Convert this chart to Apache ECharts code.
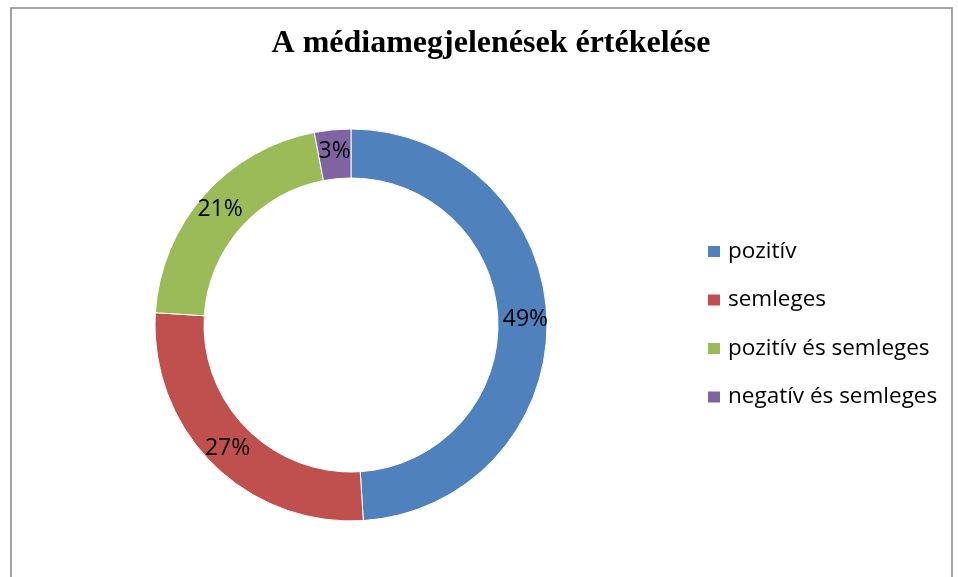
<!DOCTYPE html>
<html>
<head>
<meta charset="utf-8">
<script src="https://cdn.jsdelivr.net/npm/echarts@6/dist/echarts.min.js"></script>
<style>
  html, body { margin: 0; padding: 0; background: #fff; }
  #chart { width: 958px; height: 577px; }
</style>
</head>
<body>
<div id="chart"></div>
<script>
// Categories and shares (%) of the media appearances
const categories = ['pozitív', 'semleges', 'pozitív és semleges', 'negatív és semleges'];
const shares = [49, 27, 21, 3];
const colors = ['#4F81BD', '#C0504D', '#9BBB59', '#8064A2'];
const titleText = 'A médiamegjelenések értékelése';

const sansFont = '"Open Sans", Lato, sans-serif';

const chart = echarts.init(document.getElementById('chart'));
chart.setOption({
  animation: false,
  color: colors,
  title: {
    text: titleText,
    left: 491,
    textAlign: 'center',
    top: 28,
    padding: 0,
    textStyle: {
      fontFamily: '"Liberation Serif", "Times New Roman", serif',
      fontWeight: 'bold',
      fontSize: 32,
      color: '#000'
    }
  },
  graphic: [{
    type: 'rect',
    shape: { x: 11, y: 8, width: 941, height: 620 },
    style: { fill: 'none', stroke: '#878787', lineWidth: 1.5 },
    silent: true
  }],
  legend: {
    orient: 'vertical',
    left: 706,
    top: 240,
    padding: 0,
    itemWidth: 14,
    itemHeight: 13,
    itemGap: 25.5,
    icon: 'rect',
    data: categories,
    textStyle: {
      fontFamily: sansFont,
      fontSize: 22.5,
      lineHeight: 20,
      color: '#000',
      padding: [0, 0, 0, 2]
    }
  },
  series: [{
    type: 'pie',
    center: [351, 325],
    radius: [147, 196],
    startAngle: 90,
    clockwise: true,
    label: {
      show: true,
      position: 'inside',
      formatter: '{c}%',
      fontFamily: sansFont,
      fontSize: 23,
      color: '#000'
    },
    labelLine: { show: false },
    itemStyle: { borderColor: '#fff', borderWidth: 1 },
    emphasis: { disabled: true },
    data: categories.map((name, i) => ({ name, value: shares[i] }))
  }]
});
</script>
</body>
</html>
